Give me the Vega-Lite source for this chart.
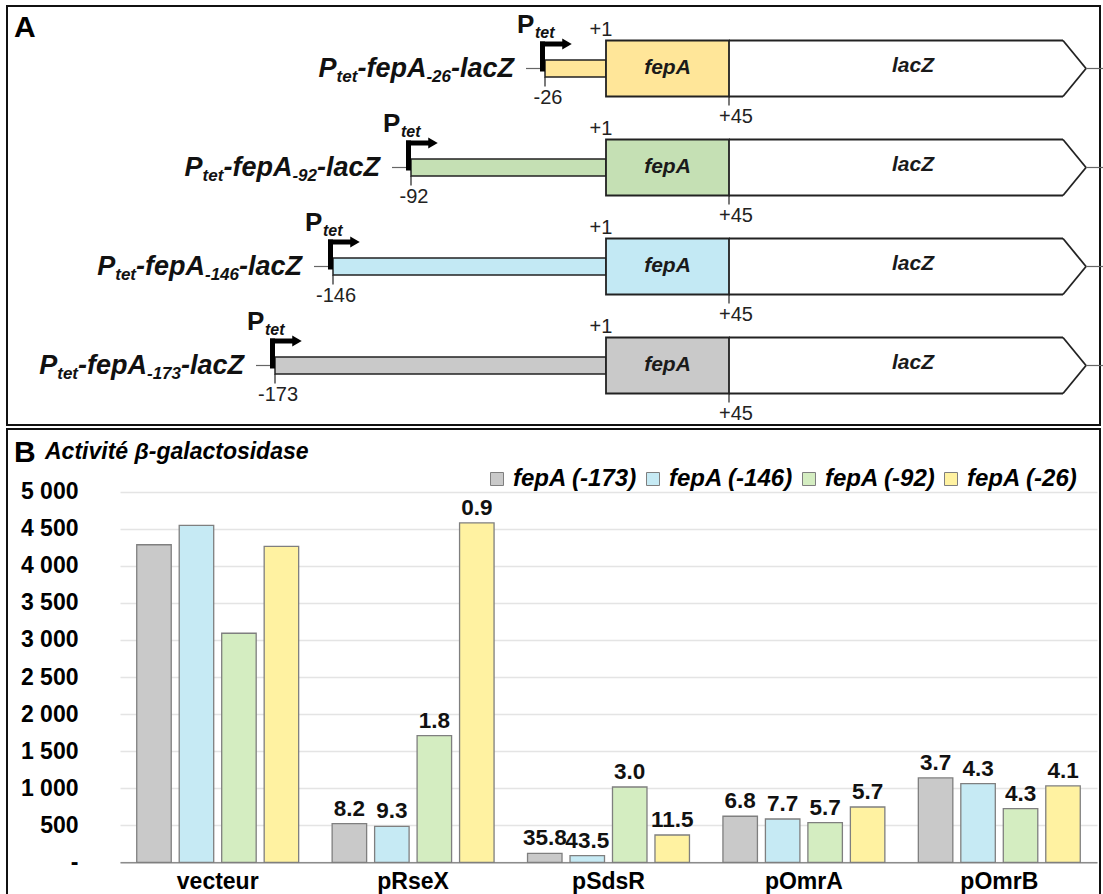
{
  "$schema": "https://vega.github.io/schema/vega-lite/v6.json",
  "width": 1103,
  "height": 894,
  "autosize": {"type": "none"},
  "padding": 0,
  "background": "white",
  "config": {"view": {"stroke": null}, "font": "Liberation Sans"},
  "datasets": {
    "constructs": [
      {"construct": "fepA (-26)", "row": 1, "start": -61, "coord": "-26"},
      {"construct": "fepA (-92)", "row": 2, "start": -195, "coord": "-92"},
      {"construct": "fepA (-146)", "row": 3, "start": -273, "coord": "-146"},
      {"construct": "fepA (-173)", "row": 4, "start": -331, "coord": "-173"}
    ],
    "frames": [
      {"panel": "A", "x0": -599, "x1": 494, "r0": 0.3687, "r1": 4.601},
      {"panel": "B", "x0": -599, "x1": 494, "r0": 4.6414, "r1": 9.45}
    ],
    "headings": [
      {"text": "A", "x": -592, "r": 0.6818},
      {"text": "B", "x": -592, "r": 4.9747}
    ],
    "subtitles": [
      {"text": "Activité β-galactosidase", "x": -561, "r": 4.9444}
    ],
    "activity": [
      {"plasmid": "vecteur", "construct": "fepA (-173)", "value": 4284, "lbl": ""},
      {"plasmid": "vecteur", "construct": "fepA (-146)", "value": 4545, "lbl": ""},
      {"plasmid": "vecteur", "construct": "fepA (-92)", "value": 3090, "lbl": ""},
      {"plasmid": "vecteur", "construct": "fepA (-26)", "value": 4261, "lbl": ""},
      {"plasmid": "pRseX", "construct": "fepA (-173)", "value": 521, "lbl": "8.2"},
      {"plasmid": "pRseX", "construct": "fepA (-146)", "value": 486, "lbl": "9.3"},
      {"plasmid": "pRseX", "construct": "fepA (-92)", "value": 1709, "lbl": "1.8"},
      {"plasmid": "pRseX", "construct": "fepA (-26)", "value": 4579, "lbl": "0.9"},
      {"plasmid": "pSdsR", "construct": "fepA (-173)", "value": 121, "lbl": "35.8"},
      {"plasmid": "pSdsR", "construct": "fepA (-146)", "value": 89, "lbl": "43.5"},
      {"plasmid": "pSdsR", "construct": "fepA (-92)", "value": 1016, "lbl": "3.0"},
      {"plasmid": "pSdsR", "construct": "fepA (-26)", "value": 368, "lbl": "11.5"},
      {"plasmid": "pOmrA", "construct": "fepA (-173)", "value": 621, "lbl": "6.8"},
      {"plasmid": "pOmrA", "construct": "fepA (-146)", "value": 584, "lbl": "7.7"},
      {"plasmid": "pOmrA", "construct": "fepA (-92)", "value": 535, "lbl": "5.7"},
      {"plasmid": "pOmrA", "construct": "fepA (-26)", "value": 746, "lbl": "5.7"},
      {"plasmid": "pOmrB", "construct": "fepA (-173)", "value": 1138, "lbl": "3.7"},
      {"plasmid": "pOmrB", "construct": "fepA (-146)", "value": 1061, "lbl": "4.3"},
      {"plasmid": "pOmrB", "construct": "fepA (-92)", "value": 724, "lbl": "4.3"},
      {"plasmid": "pOmrB", "construct": "fepA (-26)", "value": 1030, "lbl": "4.1"}
    ]
  },
  "layer": [
    {
      "layer": [
        {
          "data": {"name": "frames"},
          "mark": {"type": "rect", "fill": "transparent", "stroke": "#111111", "strokeWidth": 2},
          "encoding": {
            "x": {"field": "x0", "type": "quantitative", "scale": {"domain": [-606, 497], "zero": false, "nice": false}, "axis": null},
            "x2": {"field": "x1"},
            "y": {"field": "r0", "type": "quantitative", "scale": {"domain": [0.3081, 9.3384], "reverse": true, "zero": false, "nice": false}, "axis": null},
            "y2": {"field": "r1"}
          }
        },
        {
          "data": {"name": "constructs"},
          "mark": {"type": "rect", "stroke": "#222222", "strokeWidth": 1.5, "yOffset": -8.5, "y2Offset": 8.5},
          "encoding": {
            "x": {"field": "start", "type": "quantitative", "scale": {"domain": [-606, 497], "zero": false, "nice": false}, "axis": null},
            "x2": {"datum": 0},
            "y": {"field": "row", "type": "quantitative", "scale": {"domain": [0.3081, 9.3384], "reverse": true, "zero": false, "nice": false}, "axis": null},
            "y2": {"field": "row"},
            "color": {"field": "construct", "type": "nominal", "scale": {"domain": ["fepA (-26)", "fepA (-92)", "fepA (-146)", "fepA (-173)"], "range": ["#FFE699", "#C5E0B4", "#C3E9F4", "#C9C9C9"]}, "legend": null}
          }
        },
        {
          "data": {"name": "constructs"},
          "mark": {"type": "rect", "stroke": "#222222", "strokeWidth": 1.8, "yOffset": -28, "y2Offset": 28},
          "encoding": {
            "x": {"datum": 0, "type": "quantitative", "scale": {"domain": [-606, 497], "zero": false, "nice": false}, "axis": null},
            "x2": {"datum": 123},
            "y": {"field": "row", "type": "quantitative", "scale": {"domain": [0.3081, 9.3384], "reverse": true, "zero": false, "nice": false}, "axis": null},
            "y2": {"field": "row"},
            "color": {"field": "construct", "type": "nominal", "scale": {"domain": ["fepA (-26)", "fepA (-92)", "fepA (-146)", "fepA (-173)"], "range": ["#FFE699", "#C5E0B4", "#C3E9F4", "#C9C9C9"]}, "legend": null}
          }
        },
        {
          "data": {"name": "constructs"},
          "mark": {"type": "rule", "color": "#222222", "strokeWidth": 1.8, "yOffset": -28},
          "encoding": {
            "x": {"datum": 123, "type": "quantitative", "scale": {"domain": [-606, 497], "zero": false, "nice": false}, "axis": null},
            "x2": {"datum": 457},
            "y": {"field": "row", "type": "quantitative", "scale": {"domain": [0.3081, 9.3384], "reverse": true, "zero": false, "nice": false}, "axis": null}
          }
        },
        {
          "data": {"name": "constructs"},
          "mark": {"type": "rule", "color": "#222222", "strokeWidth": 1.8, "yOffset": 28},
          "encoding": {
            "x": {"datum": 123, "type": "quantitative", "scale": {"domain": [-606, 497], "zero": false, "nice": false}, "axis": null},
            "x2": {"datum": 457},
            "y": {"field": "row", "type": "quantitative", "scale": {"domain": [0.3081, 9.3384], "reverse": true, "zero": false, "nice": false}, "axis": null}
          }
        },
        {
          "data": {"name": "constructs"},
          "mark": {"type": "rule", "color": "#222222", "strokeWidth": 1.8, "yOffset": -28, "y2Offset": 0},
          "encoding": {
            "x": {"datum": 457, "type": "quantitative", "scale": {"domain": [-606, 497], "zero": false, "nice": false}, "axis": null},
            "x2": {"datum": 480},
            "y": {"field": "row", "type": "quantitative", "scale": {"domain": [0.3081, 9.3384], "reverse": true, "zero": false, "nice": false}, "axis": null},
            "y2": {"field": "row"}
          }
        },
        {
          "data": {"name": "constructs"},
          "mark": {"type": "rule", "color": "#222222", "strokeWidth": 1.8, "yOffset": 28, "y2Offset": 0},
          "encoding": {
            "x": {"datum": 457, "type": "quantitative", "scale": {"domain": [-606, 497], "zero": false, "nice": false}, "axis": null},
            "x2": {"datum": 480},
            "y": {"field": "row", "type": "quantitative", "scale": {"domain": [0.3081, 9.3384], "reverse": true, "zero": false, "nice": false}, "axis": null},
            "y2": {"field": "row"}
          }
        },
        {
          "data": {"name": "constructs"},
          "mark": {"type": "rule", "color": "#666666", "strokeWidth": 1.2},
          "encoding": {
            "x": {"datum": 480, "type": "quantitative", "scale": {"domain": [-606, 497], "zero": false, "nice": false}, "axis": null},
            "x2": {"datum": 497},
            "y": {"field": "row", "type": "quantitative", "scale": {"domain": [0.3081, 9.3384], "reverse": true, "zero": false, "nice": false}, "axis": null}
          }
        },
        {
          "data": {"name": "constructs"},
          "mark": {"type": "rule", "color": "#666666", "strokeWidth": 1.2, "xOffset": -19, "x2Offset": -3},
          "encoding": {
            "x": {"field": "start", "type": "quantitative", "scale": {"domain": [-606, 497], "zero": false, "nice": false}, "axis": null},
            "x2": {"field": "start"},
            "y": {"field": "row", "type": "quantitative", "scale": {"domain": [0.3081, 9.3384], "reverse": true, "zero": false, "nice": false}, "axis": null}
          }
        },
        {
          "data": {"name": "constructs"},
          "mark": {"type": "rule", "color": "#000000", "strokeWidth": 5, "strokeCap": "butt", "xOffset": -2.5, "yOffset": -27, "y2Offset": 3},
          "encoding": {
            "x": {"field": "start", "type": "quantitative", "scale": {"domain": [-606, 497], "zero": false, "nice": false}, "axis": null},
            "y": {"field": "row", "type": "quantitative", "scale": {"domain": [0.3081, 9.3384], "reverse": true, "zero": false, "nice": false}, "axis": null},
            "y2": {"field": "row"}
          }
        },
        {
          "data": {"name": "constructs"},
          "mark": {"type": "rule", "color": "#000000", "strokeWidth": 5, "strokeCap": "butt", "xOffset": -5, "x2Offset": 18, "yOffset": -24.5},
          "encoding": {
            "x": {"field": "start", "type": "quantitative", "scale": {"domain": [-606, 497], "zero": false, "nice": false}, "axis": null},
            "x2": {"field": "start"},
            "y": {"field": "row", "type": "quantitative", "scale": {"domain": [0.3081, 9.3384], "reverse": true, "zero": false, "nice": false}, "axis": null}
          }
        },
        {
          "data": {"name": "constructs"},
          "mark": {"type": "point", "shape": "triangle-right", "filled": true, "color": "#000000", "opacity": 1, "size": 120, "xOffset": 22, "yOffset": -24.5},
          "encoding": {
            "x": {"field": "start", "type": "quantitative", "scale": {"domain": [-606, 497], "zero": false, "nice": false}, "axis": null},
            "y": {"field": "row", "type": "quantitative", "scale": {"domain": [0.3081, 9.3384], "reverse": true, "zero": false, "nice": false}, "axis": null}
          }
        },
        {
          "data": {"name": "constructs"},
          "mark": {"type": "rule", "color": "#222222", "strokeWidth": 1.2, "yOffset": 8.5, "y2Offset": 18},
          "encoding": {
            "x": {"field": "start", "type": "quantitative", "scale": {"domain": [-606, 497], "zero": false, "nice": false}, "axis": null},
            "y": {"field": "row", "type": "quantitative", "scale": {"domain": [0.3081, 9.3384], "reverse": true, "zero": false, "nice": false}, "axis": null},
            "y2": {"field": "row"}
          }
        },
        {
          "data": {"name": "constructs"},
          "mark": {"type": "rule", "color": "#222222", "strokeWidth": 1.2, "yOffset": 28, "y2Offset": 37},
          "encoding": {
            "x": {"datum": 123, "type": "quantitative", "scale": {"domain": [-606, 497], "zero": false, "nice": false}, "axis": null},
            "y": {"field": "row", "type": "quantitative", "scale": {"domain": [0.3081, 9.3384], "reverse": true, "zero": false, "nice": false}, "axis": null},
            "y2": {"field": "row"}
          }
        },
        {
          "data": {"name": "constructs"},
          "mark": {"type": "text", "font": "Liberation Sans", "fontSize": 20, "color": "#222222", "align": "center", "baseline": "alphabetic", "dx": 3, "dy": 36},
          "encoding": {
            "x": {"field": "start", "type": "quantitative", "scale": {"domain": [-606, 497], "zero": false, "nice": false}, "axis": null},
            "y": {"field": "row", "type": "quantitative", "scale": {"domain": [0.3081, 9.3384], "reverse": true, "zero": false, "nice": false}, "axis": null},
            "text": {"field": "coord"}
          }
        },
        {
          "data": {"name": "constructs"},
          "mark": {"type": "text", "font": "Liberation Sans", "fontSize": 20, "color": "#222222", "align": "center", "baseline": "alphabetic", "dx": -5, "dy": -32},
          "encoding": {
            "x": {"datum": 0, "type": "quantitative", "scale": {"domain": [-606, 497], "zero": false, "nice": false}, "axis": null},
            "y": {"field": "row", "type": "quantitative", "scale": {"domain": [0.3081, 9.3384], "reverse": true, "zero": false, "nice": false}, "axis": null},
            "text": {"value": "+1"}
          }
        },
        {
          "data": {"name": "constructs"},
          "mark": {"type": "text", "font": "Liberation Sans", "fontSize": 20, "color": "#222222", "align": "center", "baseline": "alphabetic", "dx": 7, "dy": 55},
          "encoding": {
            "x": {"datum": 123, "type": "quantitative", "scale": {"domain": [-606, 497], "zero": false, "nice": false}, "axis": null},
            "y": {"field": "row", "type": "quantitative", "scale": {"domain": [0.3081, 9.3384], "reverse": true, "zero": false, "nice": false}, "axis": null},
            "text": {"value": "+45"}
          }
        },
        {
          "data": {"name": "constructs"},
          "mark": {"type": "text", "font": "Liberation Sans", "fontSize": 21, "fontWeight": "bold", "fontStyle": "italic", "color": "#1a1a1a", "align": "center", "baseline": "alphabetic", "dy": 6},
          "encoding": {
            "x": {"datum": 61.5, "type": "quantitative", "scale": {"domain": [-606, 497], "zero": false, "nice": false}, "axis": null},
            "y": {"field": "row", "type": "quantitative", "scale": {"domain": [0.3081, 9.3384], "reverse": true, "zero": false, "nice": false}, "axis": null},
            "text": {"value": "fepA"}
          }
        },
        {
          "data": {"name": "constructs"},
          "mark": {"type": "text", "font": "Liberation Sans", "fontSize": 21, "fontWeight": "bold", "fontStyle": "italic", "color": "#1a1a1a", "align": "center", "baseline": "alphabetic", "dy": 4},
          "encoding": {
            "x": {"datum": 307, "type": "quantitative", "scale": {"domain": [-606, 497], "zero": false, "nice": false}, "axis": null},
            "y": {"field": "row", "type": "quantitative", "scale": {"domain": [0.3081, 9.3384], "reverse": true, "zero": false, "nice": false}, "axis": null},
            "text": {"value": "lacZ"}
          }
        },
        {
          "data": {"name": "constructs"},
          "mark": {"type": "text", "font": "Liberation Sans", "fontSize": 27, "fontWeight": "bold", "fontStyle": "italic", "color": "#111111", "align": "right", "baseline": "alphabetic", "dx": -31, "dy": 9},
          "encoding": {
            "x": {"field": "start", "type": "quantitative", "scale": {"domain": [-606, 497], "zero": false, "nice": false}, "axis": null},
            "y": {"field": "row", "type": "quantitative", "scale": {"domain": [0.3081, 9.3384], "reverse": true, "zero": false, "nice": false}, "axis": null},
            "text": {"value": "-lacZ"}
          }
        },
        {
          "data": {"name": "constructs"},
          "mark": {"type": "text", "font": "Liberation Sans", "fontSize": 17, "fontWeight": "bold", "fontStyle": "italic", "color": "#111111", "align": "right", "baseline": "alphabetic", "dx": -94, "dy": 14},
          "encoding": {
            "x": {"field": "start", "type": "quantitative", "scale": {"domain": [-606, 497], "zero": false, "nice": false}, "axis": null},
            "y": {"field": "row", "type": "quantitative", "scale": {"domain": [0.3081, 9.3384], "reverse": true, "zero": false, "nice": false}, "axis": null},
            "text": {"field": "coord"}
          }
        },
        {
          "data": {"name": "constructs"},
          "transform": [{"filter": "length(datum.coord) == 3"}],
          "mark": {"type": "text", "font": "Liberation Sans", "fontSize": 27, "fontWeight": "bold", "fontStyle": "italic", "color": "#111111", "align": "right", "baseline": "alphabetic", "dx": -118.6, "dy": 9},
          "encoding": {
            "x": {"field": "start", "type": "quantitative", "scale": {"domain": [-606, 497], "zero": false, "nice": false}, "axis": null},
            "y": {"field": "row", "type": "quantitative", "scale": {"domain": [0.3081, 9.3384], "reverse": true, "zero": false, "nice": false}, "axis": null},
            "text": {"value": "-fepA"}
          }
        },
        {
          "data": {"name": "constructs"},
          "transform": [{"filter": "length(datum.coord) == 4"}],
          "mark": {"type": "text", "font": "Liberation Sans", "fontSize": 27, "fontWeight": "bold", "fontStyle": "italic", "color": "#111111", "align": "right", "baseline": "alphabetic", "dx": -128, "dy": 9},
          "encoding": {
            "x": {"field": "start", "type": "quantitative", "scale": {"domain": [-606, 497], "zero": false, "nice": false}, "axis": null},
            "y": {"field": "row", "type": "quantitative", "scale": {"domain": [0.3081, 9.3384], "reverse": true, "zero": false, "nice": false}, "axis": null},
            "text": {"value": "-fepA"}
          }
        },
        {
          "data": {"name": "constructs"},
          "transform": [{"filter": "length(datum.coord) == 3"}],
          "mark": {"type": "text", "font": "Liberation Sans", "fontSize": 17, "fontWeight": "bold", "fontStyle": "italic", "color": "#111111", "align": "right", "baseline": "alphabetic", "dx": -187.6, "dy": 14},
          "encoding": {
            "x": {"field": "start", "type": "quantitative", "scale": {"domain": [-606, 497], "zero": false, "nice": false}, "axis": null},
            "y": {"field": "row", "type": "quantitative", "scale": {"domain": [0.3081, 9.3384], "reverse": true, "zero": false, "nice": false}, "axis": null},
            "text": {"value": "tet"}
          }
        },
        {
          "data": {"name": "constructs"},
          "transform": [{"filter": "length(datum.coord) == 4"}],
          "mark": {"type": "text", "font": "Liberation Sans", "fontSize": 17, "fontWeight": "bold", "fontStyle": "italic", "color": "#111111", "align": "right", "baseline": "alphabetic", "dx": -197, "dy": 14},
          "encoding": {
            "x": {"field": "start", "type": "quantitative", "scale": {"domain": [-606, 497], "zero": false, "nice": false}, "axis": null},
            "y": {"field": "row", "type": "quantitative", "scale": {"domain": [0.3081, 9.3384], "reverse": true, "zero": false, "nice": false}, "axis": null},
            "text": {"value": "tet"}
          }
        },
        {
          "data": {"name": "constructs"},
          "transform": [{"filter": "length(datum.coord) == 3"}],
          "mark": {"type": "text", "font": "Liberation Sans", "fontSize": 27, "fontWeight": "bold", "fontStyle": "italic", "color": "#111111", "align": "right", "baseline": "alphabetic", "dx": -208.4, "dy": 9},
          "encoding": {
            "x": {"field": "start", "type": "quantitative", "scale": {"domain": [-606, 497], "zero": false, "nice": false}, "axis": null},
            "y": {"field": "row", "type": "quantitative", "scale": {"domain": [0.3081, 9.3384], "reverse": true, "zero": false, "nice": false}, "axis": null},
            "text": {"value": "P"}
          }
        },
        {
          "data": {"name": "constructs"},
          "transform": [{"filter": "length(datum.coord) == 4"}],
          "mark": {"type": "text", "font": "Liberation Sans", "fontSize": 27, "fontWeight": "bold", "fontStyle": "italic", "color": "#111111", "align": "right", "baseline": "alphabetic", "dx": -217.8, "dy": 9},
          "encoding": {
            "x": {"field": "start", "type": "quantitative", "scale": {"domain": [-606, 497], "zero": false, "nice": false}, "axis": null},
            "y": {"field": "row", "type": "quantitative", "scale": {"domain": [0.3081, 9.3384], "reverse": true, "zero": false, "nice": false}, "axis": null},
            "text": {"value": "P"}
          }
        },
        {
          "data": {"name": "constructs"},
          "mark": {"type": "text", "font": "Liberation Sans", "fontSize": 26, "fontWeight": "bold", "color": "#111111", "align": "left", "baseline": "alphabetic", "dx": -28, "dy": -35},
          "encoding": {
            "x": {"field": "start", "type": "quantitative", "scale": {"domain": [-606, 497], "zero": false, "nice": false}, "axis": null},
            "y": {"field": "row", "type": "quantitative", "scale": {"domain": [0.3081, 9.3384], "reverse": true, "zero": false, "nice": false}, "axis": null},
            "text": {"value": "P"}
          }
        },
        {
          "data": {"name": "constructs"},
          "mark": {"type": "text", "font": "Liberation Sans", "fontSize": 16, "fontWeight": "bold", "fontStyle": "italic", "color": "#111111", "align": "left", "baseline": "alphabetic", "dx": -10, "dy": -30},
          "encoding": {
            "x": {"field": "start", "type": "quantitative", "scale": {"domain": [-606, 497], "zero": false, "nice": false}, "axis": null},
            "y": {"field": "row", "type": "quantitative", "scale": {"domain": [0.3081, 9.3384], "reverse": true, "zero": false, "nice": false}, "axis": null},
            "text": {"value": "tet"}
          }
        },
        {
          "data": {"name": "headings"},
          "mark": {"type": "text", "font": "Liberation Sans", "fontSize": 30, "fontWeight": "bold", "color": "#000000", "align": "left", "baseline": "alphabetic"},
          "encoding": {
            "x": {"field": "x", "type": "quantitative", "scale": {"domain": [-606, 497], "zero": false, "nice": false}, "axis": null},
            "y": {"field": "r", "type": "quantitative", "scale": {"domain": [0.3081, 9.3384], "reverse": true, "zero": false, "nice": false}, "axis": null},
            "text": {"field": "text"}
          }
        },
        {
          "data": {"name": "subtitles"},
          "mark": {"type": "text", "font": "Liberation Sans", "fontSize": 23, "fontWeight": "bold", "fontStyle": "italic", "color": "#000000", "align": "left", "baseline": "alphabetic"},
          "encoding": {
            "x": {"field": "x", "type": "quantitative", "scale": {"domain": [-606, 497], "zero": false, "nice": false}, "axis": null},
            "y": {"field": "r", "type": "quantitative", "scale": {"domain": [0.3081, 9.3384], "reverse": true, "zero": false, "nice": false}, "axis": null},
            "text": {"field": "text"}
          }
        }
      ]
    },
    {
      "data": {"name": "activity"},
      "encoding": {
        "x": {
          "field": "plasmid", "type": "nominal",
          "sort": ["vecteur", "pRseX", "pSdsR", "pOmrA", "pOmrB"],
          "scale": {"range": [120, 1097], "paddingInner": 0, "paddingOuter": 0},
          "axis": {"orient": "bottom", "offset": -31.7, "title": null, "labelAngle": 0, "labelFont": "Liberation Sans", "labelFontSize": 23, "labelFontWeight": "bold", "labelColor": "#000000", "labelPadding": 8, "ticks": false, "domainColor": "#8c8c8c", "domainWidth": 1.5, "grid": false}
        },
        "xOffset": {
          "field": "construct", "type": "nominal",
          "sort": ["fepA (-173)", "fepA (-146)", "fepA (-92)", "fepA (-26)"],
          "scale": {"paddingInner": 0.188, "paddingOuter": 0.394}
        },
        "y": {
          "field": "value", "type": "quantitative",
          "scale": {"domain": [0, 5000], "range": [862.3, 491.7], "nice": false, "zero": true},
          "axis": {"orient": "left", "offset": -120, "title": null, "values": [0, 500, 1000, 1500, 2000, 2500, 3000, 3500, 4000, 4500, 5000], "labelExpr": "datum.value == 0 ? '-\u2007' : replace(format(datum.value, ','), ',', ' ')", "grid": true, "gridColor": "#E4E4E4", "gridWidth": 1.5, "domain": false, "ticks": false, "labelPadding": 42, "labelFont": "Liberation Sans", "labelFontSize": 23, "labelFontWeight": "bold", "labelColor": "#000000"}
        }
      },
      "layer": [
        {
          "mark": {"type": "bar", "stroke": "#7f7f7f", "strokeWidth": 1.3},
          "encoding": {
            "color": {
              "field": "construct", "type": "nominal",
              "scale": {"domain": ["fepA (-173)", "fepA (-146)", "fepA (-92)", "fepA (-26)"], "range": ["#C9C9C9", "#C6EAF4", "#D4EDC1", "#FFF2A1"]},
              "legend": {"orient": "none", "legendX": 485, "legendY": 467, "direction": "horizontal", "title": null, "symbolType": "square", "symbolSize": 169, "symbolStrokeColor": "#7f7f7f", "symbolStrokeWidth": 1, "symbolOpacity": 1, "labelFont": "Liberation Sans", "labelFontSize": 24, "labelFontWeight": "bold", "labelFontStyle": "italic", "labelColor": "#000000", "labelOffset": 4, "columnPadding": 3, "padding": 0, "labelLimit": 300}
            }
          }
        },
        {
          "mark": {"type": "text", "font": "Liberation Sans", "fontSize": 22.5, "fontWeight": "bold", "color": "#111111", "baseline": "alphabetic", "dy": -8},
          "encoding": {"text": {"field": "lbl"}}
        }
      ]
    }
  ],
  "resolve": {"scale": {"x": "independent", "y": "independent", "color": "independent"}}
}
